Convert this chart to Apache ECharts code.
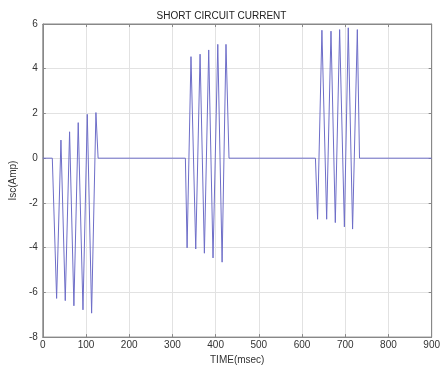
<!DOCTYPE html>
<html><head><meta charset="utf-8">
<script src="https://cdn.jsdelivr.net/npm/echarts@6/dist/echarts.min.js"></script>
<style>html,body{margin:0;padding:0;background:#fff}#c{width:443px;height:370px}</style>
</head><body><div id="c"></div>
<script>
var timeMs = [0, 22, 32, 42, 52, 62, 72, 82, 93, 103, 113, 123, 128,
  330, 334, 343, 354, 364, 374, 384, 394, 405, 415, 424, 431,
  631, 636, 646, 657, 667, 677, 687, 698, 707, 717, 728, 733, 900];
var currentAmp = [0, 0, -6.27, 0.81, -6.37, 1.18, -6.6, 1.59, -6.78, 1.96, -6.93, 2.04, 0,
  0, -4.01, 4.54, -4.06, 4.65, -4.25, 4.84, -4.46, 5.09, -4.65, 5.09, 0,
  0, -2.73, 5.72, -2.73, 5.68, -2.88, 5.75, -3.07, 5.83, -3.17, 5.75, 0, 0];
var xTicks = [0, 100, 200, 300, 400, 500, 600, 700, 800, 900];
var yTicks = [-8, -6, -4, -2, 0, 2, 4, 6];

var pts = timeMs.map(function (t, i) { return [t, currentAmp[i]]; });
var font = 'Liberation Sans, Arial, sans-serif';
var axisCol = '#888';
function xAx(pos, main) {
  return {
    type: 'value', position: pos, min: xTicks[0], max: xTicks[xTicks.length - 1], interval: 100,
    name: main ? 'TIME(msec)' : '', nameLocation: 'middle', nameGap: 15,
    nameTextStyle: { fontSize: 10, color: '#333', fontFamily: font },
    axisLine: { show: true, onZero: false, lineStyle: { color: axisCol } },
    axisTick: { show: true, inside: true, length: 3, lineStyle: { color: axisCol } },
    axisLabel: { show: main, fontSize: 10, color: '#333', margin: 3, fontFamily: font },
    splitLine: { show: main, lineStyle: { color: '#e2e2e2', width: 1 } }
  };
}
function yAx(pos, main) {
  return {
    type: 'value', position: pos, min: yTicks[0], max: yTicks[yTicks.length - 1], interval: 2,
    name: main ? 'Isc(Amp)' : '', nameLocation: 'middle', nameGap: 24,
    nameTextStyle: { fontSize: 10, color: '#333', fontFamily: font },
    axisLine: { show: true, onZero: false, lineStyle: { color: axisCol } },
    axisTick: { show: true, inside: true, length: 3, lineStyle: { color: axisCol } },
    axisLabel: { show: main, fontSize: 10, color: '#333', margin: 5, fontFamily: font },
    splitLine: { show: main, lineStyle: { color: '#e2e2e2', width: 1 } }
  };
}
var chart = echarts.init(document.getElementById('c'));
chart.setOption({
  animation: false,
  title: { text: 'SHORT CIRCUIT CURRENT', left: 'center', top: 6,
    textStyle: { fontSize: 10, fontWeight: 'normal', color: '#222', fontFamily: font } },
  grid: { left: 34, right: 7, top: 24, bottom: 29, show: true, borderColor: axisCol, borderWidth: 1 },
  xAxis: [xAx('bottom', true), xAx('top', false)],
  yAxis: [yAx('left', true), yAx('right', false)],
  series: [{
    type: 'line', data: pts, symbol: 'none', xAxisIndex: 0, yAxisIndex: 0,
    lineStyle: { color: '#6e6ec8', width: 1 }
  }]
});
</script></body></html>
